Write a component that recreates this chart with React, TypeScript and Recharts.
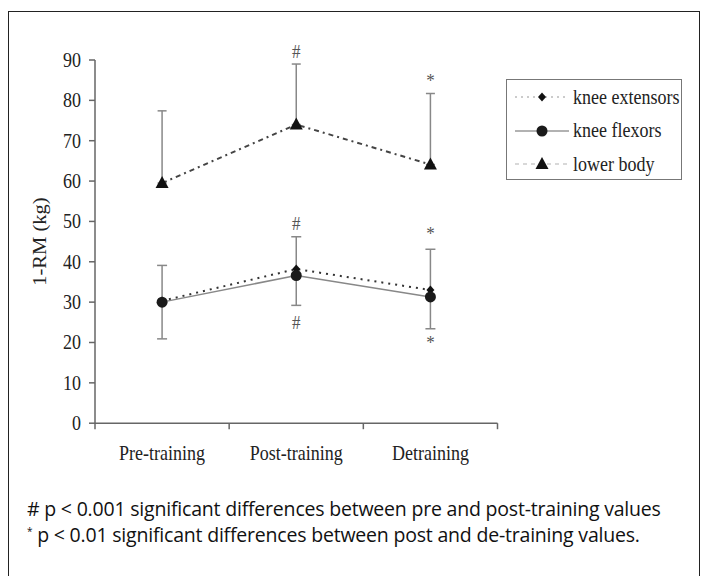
import { LineChart, Line, XAxis, YAxis, ErrorBar, ReferenceDot, Legend } from "recharts";

const categories = ["Pre-training", "Post-training", "Detraining"];
const kneeExtensors = [30.3, 38.2, 33.0];
const kneeFlexors = [30.0, 36.6, 31.3];
const lowerBody = [59.5, 74.0, 64.1];
// error bars (kg) drawn around the knee flexors / lower body points
const kneeErrDown = [9.1, 7.4, 7.9];
const kneeErrUp = [9.1, 9.6, 11.8];
const lowerErrUp = [17.9, 15.0, 17.6];
const yTicks = [0, 10, 20, 30, 40, 50, 60, 70, 80, 90];

// significance marks: category index, y value, symbol
const markCats = [1, 2, 1, 1, 2, 2];
const markValues = [92, 85, 49.5, 25, 47, 20];
const markTexts = ["#", "*", "#", "#", "*", "*"];

const serif = "'Liberation Serif', 'Times New Roman', serif";
const fontSize = 18;
const stretch = 1.14; // the scanned figure is a bit taller than wide

const data = categories.map((c, i) => ({
  x: i + 0.5,
  name: c,
  ext: kneeExtensors[i],
  flex: kneeFlexors[i],
  lower: lowerBody[i],
  kneeErr: [kneeErrDown[i], kneeErrUp[i]],
  lowerErr: [0, lowerErrUp[i]],
}));

const xTicks = [...categories.map((_, i) => i), categories.length, ...categories.map((_, i) => i + 0.5)].sort((a, b) => a - b);

const Triangle = ({ cx, cy }: any) =>
  cx == null ? null : (
    <polygon points={`${cx},${cy - 7} ${cx - 6.5},${cy + 5} ${cx + 6.5},${cy + 5}`} fill="#111" />
  );
const Diamond = ({ cx, cy }: any) =>
  cx == null ? null : (
    <polygon points={`${cx},${cy - 4.5} ${cx + 4},${cy} ${cx},${cy + 4.5} ${cx - 4},${cy}`} fill="#111" />
  );
const Dot = ({ cx, cy }: any) => (cx == null ? null : <circle cx={cx} cy={cy} r={5.5} fill="#1a1a1a" />);

const legendStyle: Record<string, { dash?: string; stroke: string; Marker: any }> = {
  ext: { dash: "2 4", stroke: "#bbb", Marker: Diamond },
  flex: { stroke: "#999", Marker: Dot },
  lower: { dash: "4 4", stroke: "#ccc", Marker: Triangle },
};

const TallText = ({ x, y, anchor, size = fontSize, fill = "#222", children }: any) => (
  <text
    transform={`translate(${x},${y}) scale(1,${stretch})`}
    textAnchor={anchor}
    dominantBaseline="central"
    fontFamily={serif}
    fontSize={size}
    fill={fill}
  >
    {children}
  </text>
);

const XTick = ({ x, y, payload }: any) => {
  const v = payload.value;
  if (Number.isInteger(v)) {
    return <line x1={x} y1={y} x2={x} y2={y + 6} stroke="#666" strokeWidth={1.5} />;
  }
  return (
    <TallText x={x} y={y + 30} anchor="middle">
      {categories[Math.floor(v)]}
    </TallText>
  );
};

const YTick = ({ x, y, payload }: any) => (
  <TallText x={x} y={y} anchor="end">
    {payload.value}
  </TallText>
);

const YLabel = ({ viewBox }: any) => {
  const cy = viewBox.y + viewBox.height / 2;
  return (
    <text
      transform={`translate(40,${cy}) rotate(-90) scale(${stretch},1)`}
      textAnchor="middle"
      dominantBaseline="central"
      fontFamily={serif}
      fontSize={fontSize}
      fill="#222"
    >
      1-RM (kg)
    </text>
  );
};

const Mark = ({ viewBox, value }: any) => (
  <TallText x={viewBox.x + viewBox.width / 2} y={viewBox.y + viewBox.height / 2} anchor="middle" size={17} fill="#555">
    {value}
  </TallText>
);

const LegendBox = ({ payload }: any) => (
  <div style={{ width: 174, height: 99, border: "1.5px solid #777", background: "#fff", position: "relative" }}>
    {(payload || []).map((p: any, i: number) => {
      const s = legendStyle[p.dataKey];
      const M = s.Marker;
      return (
        <div key={p.dataKey} style={{ position: "absolute", left: 0, top: 17 + i * 33.6 - 12, height: 24, display: "flex", alignItems: "center" }}>
          <svg width={66} height={24}>
            <line x1={8} y1={12} x2={62} y2={12} stroke={s.stroke} strokeWidth={1.5} strokeDasharray={s.dash} />
            <M cx={35} cy={12} />
          </svg>
          <span style={{ fontFamily: serif, fontSize, color: "#222", display: "inline-block", transform: `scaleY(${stretch})` }}>
            {p.value}
          </span>
        </div>
      );
    })}
  </div>
);

export default function App() {
  return (
    <div style={{ position: "absolute", left: 0, top: 0, width: 701, height: 576, background: "#fff", overflow: "hidden" }}>
      <div style={{ position: "absolute", left: 8, top: 11, width: 690, height: 600, border: "1.5px solid #222" }} />
      <div style={{ position: "absolute", left: 0, top: 0 }}>
        <LineChart width={701} height={576} data={data} margin={{ top: 60, right: 203.5, bottom: 122.8, left: 0 }}>
          <XAxis
            dataKey="x"
            type="number"
            domain={[0, categories.length]}
            ticks={xTicks}
            interval={0}
            tickSize={0}
            tickMargin={0}
            height={30}
            stroke="#666"
            strokeWidth={1.5}
            tick={<XTick />}
          />
          <YAxis
            domain={[0, 90]}
            ticks={yTicks}
            interval={0}
            width={95}
            tickSize={6}
            tickMargin={8}
            stroke="#666"
            strokeWidth={1.5}
            tick={<YTick />}
            label={<YLabel />}
          />
          <Legend
            layout="vertical"
            align="center"
            verticalAlign="middle"
            wrapperStyle={{ left: 506, top: 79, width: 177 }}
            content={<LegendBox />}
          />
          <Line
            dataKey="ext"
            name="knee extensors"
            stroke="#333"
            strokeWidth={2}
            strokeDasharray="2 5"
            dot={<Diamond />}
            isAnimationActive={false}
          />
          <Line dataKey="flex" name="knee flexors" stroke="#888" strokeWidth={1.5} dot={<Dot />} isAnimationActive={false}>
            <ErrorBar dataKey="kneeErr" width={5} stroke="#888" strokeWidth={1.5} direction="y" />
          </Line>
          <Line
            dataKey="lower"
            name="lower body"
            stroke="#444"
            strokeWidth={2}
            strokeDasharray="5 4 2 4"
            dot={<Triangle />}
            isAnimationActive={false}
          >
            <ErrorBar dataKey="lowerErr" width={4.5} stroke="#888" strokeWidth={1.5} direction="y" />
          </Line>
          {markTexts.map((t, i) => (
            <ReferenceDot
              key={i}
              x={markCats[i] + 0.5}
              y={markValues[i]}
              r={0}
              stroke="none"
              fill="none"
              ifOverflow="visible"
              label={<Mark value={t} />}
            />
          ))}
        </LineChart>
      </div>
      <div style={{ position: "absolute", left: 27, top: 496, fontFamily: "'Open Sans', sans-serif", fontSize: 19.5, lineHeight: "26px", color: "#111", whiteSpace: "nowrap", letterSpacing: -0.2 }}>
        <div># p &lt; 0.001 significant differences between pre and post-training values</div>
        <div>
          <span style={{ fontSize: 10, verticalAlign: "top", lineHeight: "18px" }}>*</span> p &lt; 0.01 significant differences between post and de-training values.
        </div>
      </div>
    </div>
  );
}
